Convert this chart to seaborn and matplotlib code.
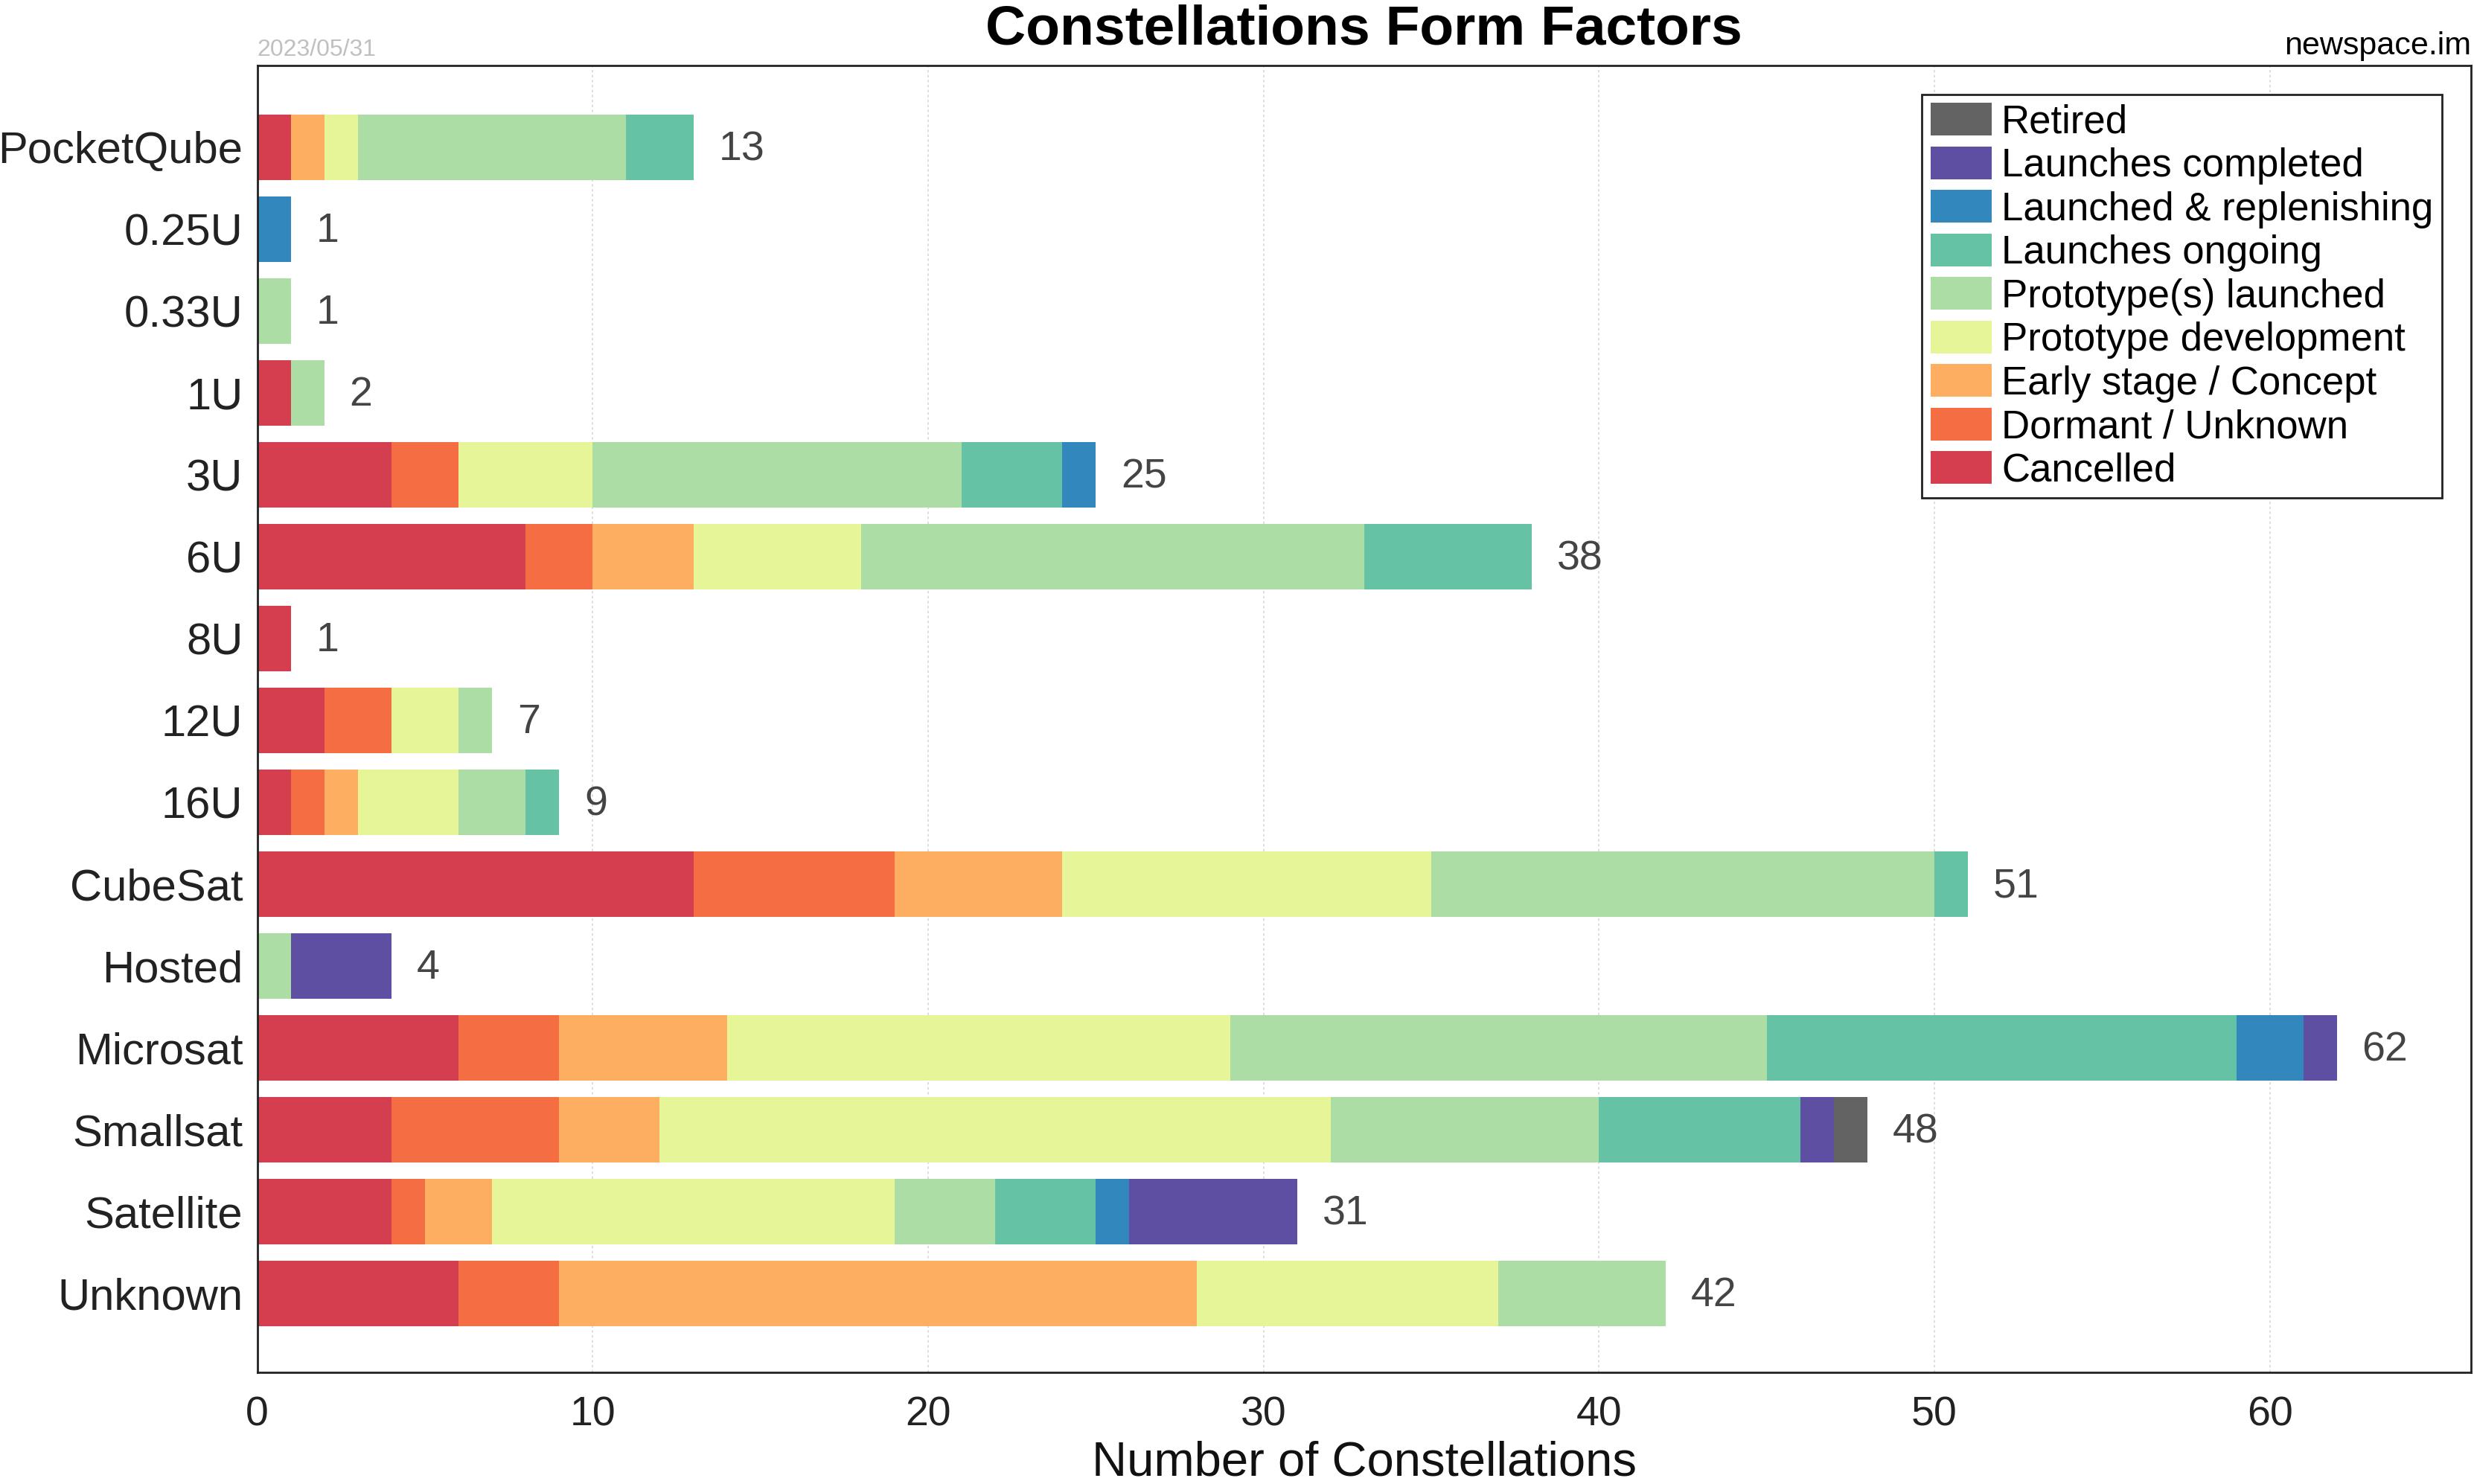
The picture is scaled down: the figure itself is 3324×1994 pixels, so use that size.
import matplotlib
matplotlib.use('Agg')
import matplotlib.pyplot as plt
import seaborn as sns
import pandas as pd
import numpy as np

categories = ['PocketQube', '0.25U', '0.33U', '1U', '3U', '6U', '8U', '12U', '16U',
              'CubeSat', 'Hosted', 'Microsat', 'Smallsat', 'Satellite', 'Unknown']
status_labels = ['Cancelled', 'Dormant / Unknown', 'Early stage / Concept',
                 'Prototype development', 'Prototype(s) launched', 'Launches ongoing',
                 'Launched & replenishing', 'Launches completed', 'Retired']
cancelled      = [1, 0, 0, 1, 4, 8, 1, 2, 1, 13, 0, 6, 4, 4, 6]
dormant        = [0, 0, 0, 0, 2, 2, 0, 2, 1, 6, 0, 3, 5, 1, 3]
early          = [1, 0, 0, 0, 0, 3, 0, 0, 1, 5, 0, 5, 3, 2, 19]
proto_dev      = [1, 0, 0, 0, 4, 5, 0, 2, 3, 11, 0, 15, 20, 12, 9]
proto_launched = [8, 0, 1, 1, 11, 15, 0, 1, 2, 15, 1, 16, 8, 3, 5]
ongoing        = [2, 0, 0, 0, 3, 5, 0, 0, 1, 1, 0, 14, 6, 3, 0]
replenishing   = [0, 1, 0, 0, 1, 0, 0, 0, 0, 0, 0, 2, 0, 1, 0]
completed      = [0, 0, 0, 0, 0, 0, 0, 0, 0, 0, 3, 1, 1, 5, 0]
retired        = [0, 0, 0, 0, 0, 0, 0, 0, 0, 0, 0, 0, 1, 0, 0]

colors = ['#d53e4f', '#f46d43', '#fdae61', '#e6f598', '#abdda4',
          '#66c2a5', '#3288bd', '#5e4fa2', '#636363']

series = [cancelled, dormant, early, proto_dev, proto_launched,
          ongoing, replenishing, completed, retired]

sns.set_theme(style='white')
plt.rcParams['font.family'] = ['Liberation Sans', 'DejaVu Sans']

fig = plt.figure(figsize=(16.62, 9.97), dpi=200)
ax = fig.add_axes([0.104, 0.075, 0.8948, 0.881])

vals = np.array(series, dtype=float)
cum = np.cumsum(vals, axis=0)
totals = cum[-1]

for i in range(len(series) - 1, -1, -1):
    df = pd.DataFrame({'cat': categories, 'val': cum[i]})
    sns.barplot(data=df, x='val', y='cat', order=categories, orient='h',
                color=colors[i], saturation=1, width=0.8, errorbar=None,
                linewidth=0, label=status_labels[i], ax=ax)

for yi, t in enumerate(totals):
    ax.text(t + 0.75, yi + 0.03, f'{int(t)}', ha='left', va='center',
            fontsize=20, color='#444444')

ax.set_xlim(0, 66.0)
ax.set_ylim(14.97, -1.0)
ax.set_xticks([0, 10, 20, 30, 40, 50, 60])
ax.xaxis.grid(True, linestyle=(0, (2, 2)), color='#d8d8d8', linewidth=0.6)
ax.yaxis.grid(False)
ax.set_axisbelow(True)
ax.tick_params(axis='x', length=0, pad=11, labelsize=20, colors='#222222')
ax.tick_params(axis='y', length=0, pad=7, labelsize=21.5, colors='#222222')
for s in ax.spines.values():
    s.set_visible(True)
    s.set_color('#222222')
    s.set_linewidth(1.0)

ax.set_ylabel('')
ax.set_xlabel('Number of Constellations', fontsize=23.5, color='#111111', labelpad=3)
ax.set_title('Constellations Form Factors', fontsize=27, fontweight='bold',
             color='black', pad=10)

ax.text(0, 1.003, '2023/05/31', transform=ax.transAxes, ha='left', va='bottom',
        fontsize=11.5, color='#c0c0c0')
ax.text(1.0, 1.003, 'newspace.im', transform=ax.transAxes, ha='right', va='bottom',
        fontsize=15.5, color='black')

leg = ax.legend(loc='upper right', fontsize=19, frameon=True, fancybox=False,
                edgecolor='#222222', framealpha=1, handlelength=1.55,
                handleheight=0.9, handletextpad=0.25, labelspacing=0.14,
                borderpad=0.22, borderaxespad=0.74)
leg.get_frame().set_linewidth(1.0)
for t in leg.get_texts():
    t.set_color('black')

fig.savefig('out.png', dpi=200)
